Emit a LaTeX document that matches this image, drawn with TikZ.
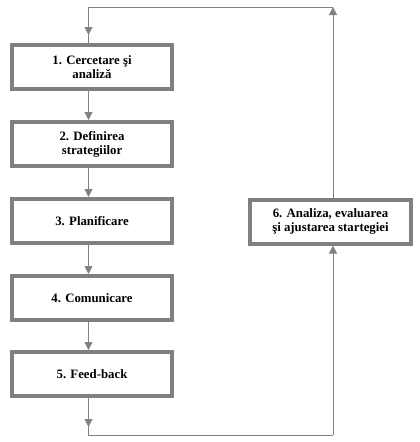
\documentclass[tikz,border=0pt]{standalone}
\usepackage{fontspec}
\setmainfont{Liberation Serif}
\usetikzlibrary{arrows.meta,positioning}
\definecolor{boxgray}{RGB}{128,128,128}
\definecolor{linegray}{RGB}{130,130,130}
\begin{document}
\begin{tikzpicture}[x=1pt,y=-1pt,
  stepbox/.style={draw=boxgray,line width=4pt,fill=white,minimum width=160pt,minimum height=44pt,
    align=center,inner sep=2pt,font=\bfseries\fontsize{12.8}{14}\selectfont},
  conn/.style={draw=linegray,line width=1pt},
  arr/.style={conn,-{Triangle[length=8pt,width=8pt]}}]
\useasboundingbox (0,0) rectangle (420,442);
\node[stepbox] (b1) at (92,67) {1. Cercetare şi\\analiză};
\node[stepbox] (b2) at (92,144) {2. Definirea\\strategiilor};
\node[stepbox] (b3) at (92,221) {3. Planificare};
\node[stepbox] (b4) at (92,298) {4. Comunicare};
\node[stepbox] (b5) at (92,374) {5. Feed-back};
\node[stepbox,minimum width=161pt] (b6) at (330.5,221.5) {6. Analiza, evaluarea\\şi ajustarea startegiei};
\coordinate (tl) at (88.5,7);
\coordinate (tr) at (333,7);
\coordinate (bl) at (88.5,435);
\coordinate (br) at (333,435);
\coordinate (m1) at (88.5,35);
\coordinate (m5) at (88.5,427);
\draw[arr] (b1.south -| tl) -- (b2.north -| tl);
\draw[arr] (b2.south -| tl) -- (b3.north -| tl);
\draw[arr] (b3.south -| tl) -- (b4.north -| tl);
\draw[arr] (b4.south -| tl) -- (b5.north -| tl);
\draw[conn] (b5.south -| bl) -- (bl) -- (br);
\draw[arr] (b5.south -| bl) -- (m5);
\draw[arr] (br) -- (b6.south -| br);
\draw[arr] (b6.north -| tr) -- (tr);
\draw[conn] (tr) -- (tl) -- (b1.north -| tl);
\draw[arr] (tl) -- (m1);
\end{tikzpicture}
\end{document}
